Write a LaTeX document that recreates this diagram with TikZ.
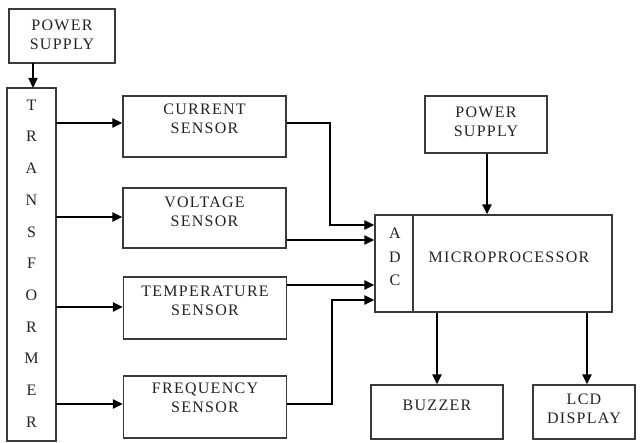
\documentclass[tikz,border=0pt]{standalone}
\usepackage{fontspec}
\setmainfont[LetterSpace=8]{Liberation Serif}
\usetikzlibrary{arrows.meta}
\definecolor{txtc}{HTML}{222222}
\definecolor{boxc}{HTML}{3A3A3A}
\begin{document}
\begin{tikzpicture}[x=1pt,y=-1pt,
  box/.style={draw=boxc, line width=1.3pt, rectangle, inner sep=0pt},
  txt/.style={text=txtc, align=center, inner sep=0pt, font=\fontsize{16}{19}\selectfont},
  conn/.style={line width=2.2pt, -{Triangle[length=10pt,width=9pt]}}]
\useasboundingbox (0,0) rectangle (641,443);
% boxes
\node[box, minimum width=106pt, minimum height=54pt] (ps1) at (62,36) {};
\node[box, minimum width=49pt, minimum height=353pt] (tr) at (31.5,264.5) {};
\node[box, minimum width=163pt, minimum height=61pt] (cs) at (204.5,126.5) {};
\node[box, minimum width=163pt, minimum height=60pt] (vs) at (204.5,218) {};
\node[box, minimum width=163pt, minimum height=62pt] (ts) at (205,308) {};
\node[box, minimum width=163pt, minimum height=62pt] (fs) at (205,407) {};
\node[box, minimum width=122pt, minimum height=57pt] (ps2) at (486,124.5) {};
\node[box, minimum width=237pt, minimum height=97pt] (mp) at (493.5,263.5) {};
\node[box, minimum width=132pt, minimum height=54pt] (bz) at (437,412) {};
\node[box, minimum width=102pt, minimum height=54pt] (lcd) at (584,412) {};
\draw[draw=boxc, line width=1.3pt] (413,215) -- (413,312);
% texts
\node[txt] (t1) at (62,35) {POWER\\SUPPLY};
\node[txt] (t2) at (204.5,119) {CURRENT\\SENSOR};
\node[txt] (t3) at (204.5,212) {VOLTAGE\\SENSOR};
\node[txt] (t4) at (205,301) {TEMPERATURE\\SENSOR};
\node[txt] (t5) at (205,398) {FREQUENCY\\SENSOR};
\node[txt] (t6) at (486,122) {POWER\\SUPPLY};
\node[txt] (t7) at (509,257) {MICROPROCESSOR};
\node[txt] (t8) at (437,405) {BUZZER};
\node[txt] (t9) at (584,409) {LCD\\DISPLAY};
\foreach \l [count=\i] in {T,R,A,N,S,F,O,R,M,E,R}
  \node[txt] (tl\i) at (31.5,105+31.7*\i-31.7) {\l};
\node[txt] (ta) at (395,233) {A};
\node[txt] (td) at (395,257) {D};
\node[txt] (tc) at (395,280) {C};
% connectors
\coordinate (p1) at (33,63);
\draw[conn] (p1) -- (33,88);
\draw[conn] (56,123) -- (cs.west |- 0,123);
\draw[conn] (56,217) -- (vs.west |- 0,217);
\draw[conn] (56,307) -- (ts.west |- 0,307);
\draw[conn] (56,404) -- (fs.west |- 0,404);
\draw[conn] (cs.east |- 0,123) -- (330,123) -- (330,225) -- (mp.west |- 0,225);
\draw[conn] (vs.east |- 0,240) -- (mp.west |- 0,240);
\draw[conn] (ts.east |- 0,285) -- (mp.west |- 0,285);
\draw[conn] (fs.east |- 0,404) -- (332,404) -- (332,300) -- (mp.west |- 0,300);
\draw[conn] (ps2.south -| 487,0) -- (mp.north -| 487,0);
\draw[conn] (mp.south -| 437,0) -- (bz.north);
\draw[conn] (mp.south -| 587,0) -- (lcd.north -| 587,0);
\end{tikzpicture}
\end{document}
